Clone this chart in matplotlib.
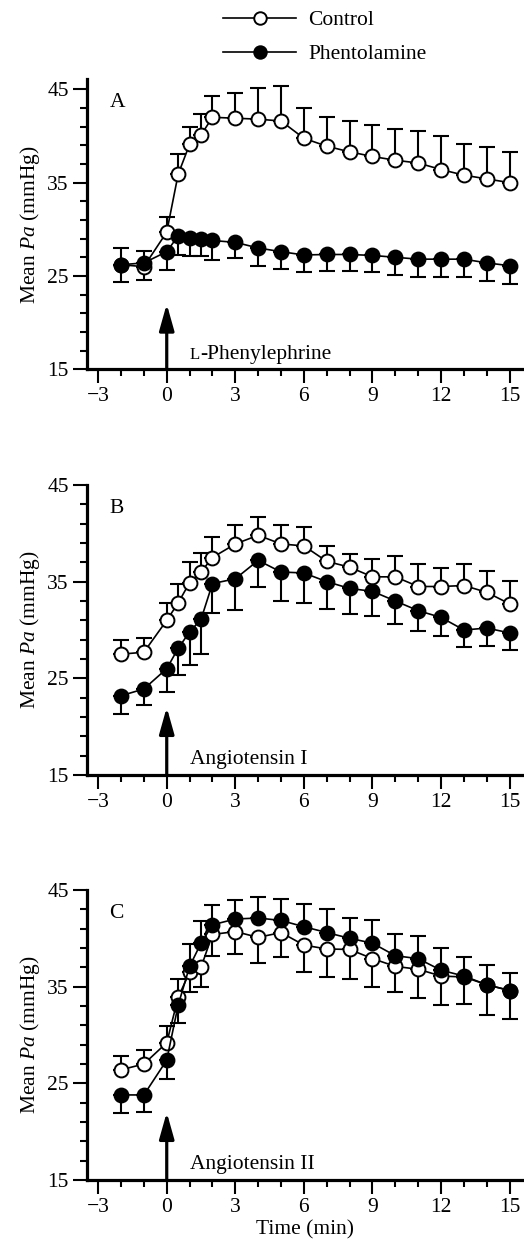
import numpy as np
import matplotlib
matplotlib.use("Agg")
import matplotlib.pyplot as plt
from matplotlib.ticker import FixedLocator, MultipleLocator
from matplotlib.transforms import offset_copy

plt.rcParams["font.family"] = "Liberation Serif"
plt.rcParams["mathtext.fontset"] = "custom"
plt.rcParams["mathtext.rm"] = "Liberation Serif"
plt.rcParams["mathtext.it"] = "Liberation Serif:italic"

# time points (min)
time = [-2, -1, 0, 0.5, 1, 1.5, 2, 3, 4, 5, 6, 7, 8, 9, 10, 11, 12, 13, 14, 15]

# mean Pa (mmHg); SEM is signed: + drawn upward, - drawn downward
ctrl_a = [26.2, 26.0, 29.7, 35.9, 39.1, 40.1, 42.0, 41.9, 41.8, 41.6,
          39.75, 38.9, 38.3, 37.8, 37.4, 37.1, 36.4, 35.8, 35.4, 35.0]
ctrl_a_sem = [1.8, 1.7, 1.6, 2.2, 1.9, 2.2, 2.3, 2.7, 3.3, 3.8,
              3.25, 3.1, 3.3, 3.4, 3.3, 3.4, 3.6, 3.3, 3.4, 3.3]
phen_a = [26.2, 26.4, 27.6, 29.3, 29.1, 29.0, 28.8, 28.6, 28.0, 27.6,
          27.25, 27.3, 27.3, 27.2, 27.0, 26.8, 26.8, 26.8, 26.4, 26.1]
phen_a_sem = [-1.9, -1.8, -2.0, -2.05, -2.0, -1.9, -2.1, -1.7, -1.9, -1.9,
              -1.85, -1.8, -1.8, -1.8, -1.9, -1.9, -1.9, -1.9, -1.9, -2.0]

ctrl_b = [27.5, 27.7, 31.0, 32.8, 34.9, 36.0, 37.5, 38.9, 39.8, 38.9,
          38.7, 37.1, 36.5, 35.5, 35.5, 34.5, 34.5, 34.6, 33.9, 32.7]
ctrl_b_sem = [1.5, 1.5, 1.8, 2.0, 2.1, 2.0, 2.1, 2.0, 1.9, 2.0,
              2.0, 1.6, 1.4, 1.8, 2.2, 2.3, 1.9, 2.2, 2.2, 2.4]
phen_b = [23.2, 23.9, 26.0, 28.1, 29.8, 31.1, 34.8, 35.3, 37.2, 36.0,
          35.9, 35.0, 34.3, 34.0, 33.0, 32.0, 31.3, 30.0, 30.2, 29.7]
phen_b_sem = [-1.9, -1.7, -2.4, -2.8, -3.4, -3.6, -3.0, -3.2, -2.8, -3.0,
              -3.1, -2.8, -2.6, -2.6, -2.4, -2.1, -1.9, -1.8, -1.9, -1.8]

ctrl_c = [26.4, 27.0, 29.2, 33.9, 36.5, 37.0, 40.4, 40.7, 40.1, 40.6,
          39.3, 38.9, 38.85, 37.9, 37.1, 36.8, 36.1, 36.0, 35.2, 34.6]
ctrl_c_sem = [1.4, 1.5, 1.7, 1.9, -2.1, -2.0, -2.2, -2.3, -2.7, -2.5,
              -2.8, -2.9, -3.05, -2.9, -2.7, -3.0, -3.0, -2.8, -3.1, -2.9]
phen_c = [23.8, 23.8, 27.4, 33.1, 37.1, 39.5, 41.4, 42.0, 42.1, 41.85,
          41.2, 40.6, 40.0, 39.5, 38.2, 37.9, 36.7, 36.1, 35.2, 34.6]
phen_c_sem = [-1.9, -1.8, -2.0, -1.9, 2.3, 2.3, 2.1, 2.0, 2.2, 2.25,
              2.4, 2.4, 2.1, 2.4, 2.2, 2.3, 2.3, 1.95, 2.0, 1.8]

panels = [
    ("A", "L", "-Phenylephrine", 46.07, ctrl_a, ctrl_a_sem, phen_a, phen_a_sem),
    ("B", "", "Angiotensin I", 45, ctrl_b, ctrl_b_sem, phen_b, phen_b_sem),
    ("C", "", "Angiotensin II", 45, ctrl_c, ctrl_c_sem, phen_c, phen_c_sem),
]

FS = 15.5
fig = plt.figure(figsize=(5.24, 12.5), dpi=100)
bottoms = [0.70456, 0.38, 0.056]


def draw_err(ax, x, y, sem, z):
    x = np.asarray(x, float)
    y = np.asarray(y, float)
    sem = np.asarray(sem, float)
    up = sem > 0
    dn = sem < 0
    if up.any():
        ax.errorbar(x[up], y[up], yerr=[np.zeros(up.sum()), sem[up]], fmt="none",
                    ecolor="k", elinewidth=1.5, capsize=5.6, capthick=1.5, zorder=z)
    if dn.any():
        ax.errorbar(x[dn], y[dn], yerr=[-sem[dn], np.zeros(dn.sum())], fmt="none",
                    ecolor="k", elinewidth=1.5, capsize=5.6, capthick=1.5, zorder=z)


handles = []
for i, (letter, small, label, ytop, cm, cs, pm, ps) in enumerate(panels):
    ax = fig.add_axes([0.1655, bottoms[i], 0.8333, 0.232])
    draw_err(ax, time, cm, cs, 2)
    draw_err(ax, time, pm, ps, 2)
    l1, = ax.plot(time, cm, "-o", color="k", lw=1.2, ms=10, mfc="white",
                  mec="k", mew=1.4, zorder=3, clip_on=False)
    l2, = ax.plot(time, pm, "-o", color="k", lw=1.2, ms=10, mfc="k",
                  mec="k", mew=1.4, zorder=4, clip_on=False)
    if i == 0:
        handles = [l1, l2]

    ax.set_xlim(-3.5, 15.6)
    ax.set_ylim(15, ytop)
    ax.spines["top"].set_visible(False)
    ax.spines["right"].set_visible(False)
    ax.spines["left"].set_linewidth(2.3)
    ax.spines["bottom"].set_linewidth(2.3)
    ax.xaxis.set_major_locator(MultipleLocator(3))
    ax.xaxis.set_minor_locator(MultipleLocator(1))
    ax.yaxis.set_major_locator(FixedLocator([15, 25, 35, 45]))
    ax.yaxis.set_minor_locator(FixedLocator(np.arange(15, 46, 2)))
    ax.tick_params(which="major", direction="out", length=10, width=1.5,
                   labelsize=FS, pad=3)
    ax.tick_params(which="minor", direction="out", length=5, width=1.5)
    ax.set_ylabel(r"Mean $\mathit{Pa}$ (mmHg)", fontsize=FS, labelpad=4)

    # stimulus arrow at t = 0
    ax.annotate("", xy=(0, 22.0), xytext=(0, 15),
                arrowprops=dict(arrowstyle="-|>,head_length=1.6,head_width=0.45",
                                lw=2.3, color="k", shrinkA=0, shrinkB=0,
                                mutation_scale=10))

    tr = ax.get_xaxis_transform()
    ax.text(-2.5, 0.905, letter, transform=tr, fontsize=FS, va="baseline")
    if small:
        t = ax.text(1.0, 0.037, small, transform=tr, fontsize=FS * 0.78,
                    va="baseline")
        fig.canvas.draw()
        w = t.get_window_extent().width
        ax.text(1.0, 0.037, label,
                transform=offset_copy(tr, fig=fig, x=w, y=0, units="dots"),
                fontsize=FS, va="baseline")
    else:
        ax.text(1.0, 0.037, label, transform=tr, fontsize=FS, va="baseline")

    if i == 2:
        ax.set_xlabel("Time (min)", fontsize=FS, labelpad=2)

fig.legend(handles, ["Control", "Phentolamine"], loc="upper left",
           bbox_to_anchor=(223 / 524, 1 - 10 / 1250), frameon=False,
           fontsize=FS, handlelength=3.4, handletextpad=0.55,
           labelspacing=0.66, borderpad=0, borderaxespad=0, markerscale=0.9)

fig.savefig("out.png", dpi=100)
